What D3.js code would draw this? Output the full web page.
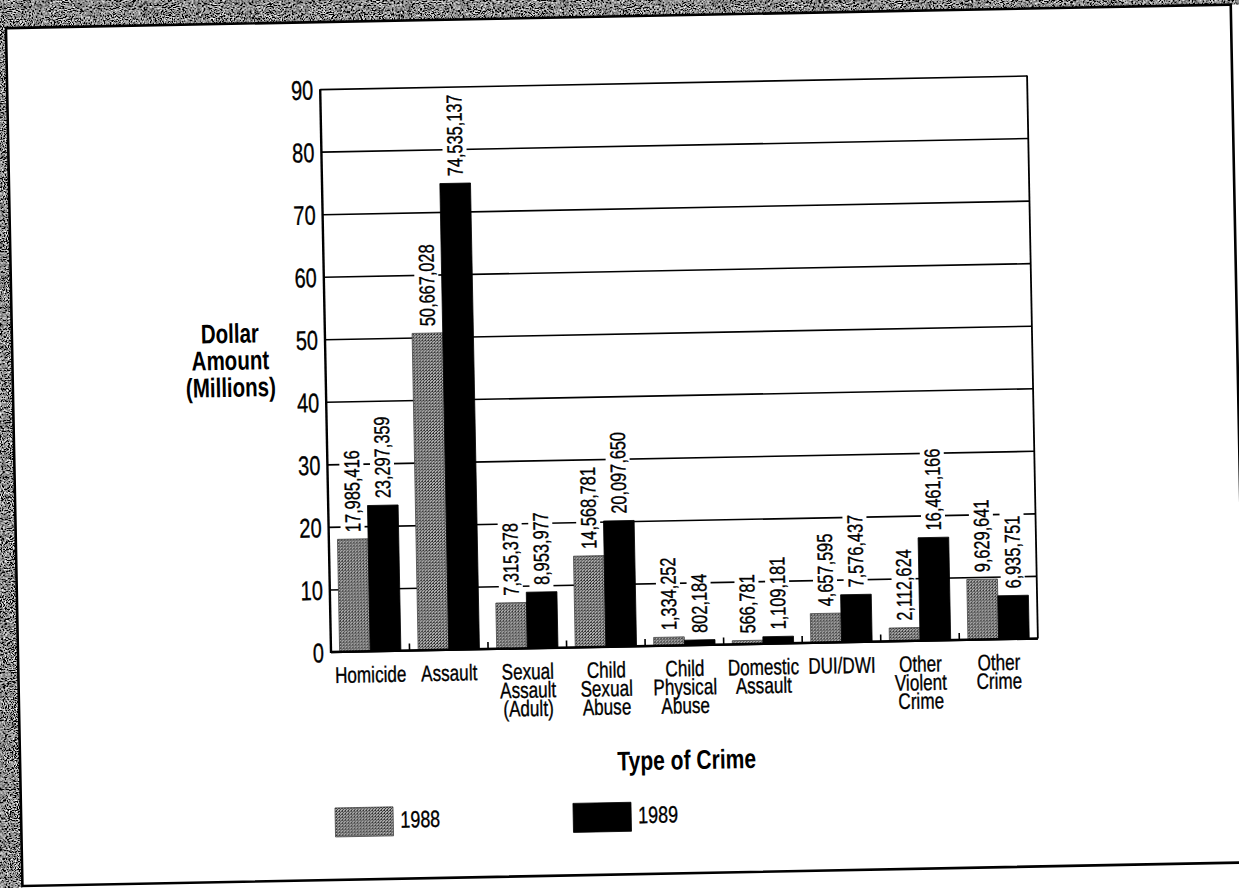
<!DOCTYPE html>
<html>
<head>
<meta charset="utf-8">
<script src="https://cdn.jsdelivr.net/npm/d3@7"></script>
<style>
  html, body { margin: 0; padding: 0; background: #fff; }
  svg { display: block; }
  text { font-family: "Liberation Sans", Arial, sans-serif; }
</style>
</head>
<body>
<svg id="chart" width="1239" height="888"></svg>
<script>
// Victim compensation payments by type of crime, 1988 vs 1989 (dollars)
const categories = [
  "Homicide", "Assault", "Sexual\nAssault\n(Adult)", "Child\nSexual\nAbuse",
  "Child\nPhysical\nAbuse", "Domestic\nAssault", "DUI/DWI", "Other\nViolent\nCrime", "Other\nCrime"
];
const years = ["1988", "1989"];
const values1988 = [17985416, 50667028, 7315378, 14568781, 1334252, 566781, 4657595, 2112624, 9629641];
const values1989 = [23297359, 74535137, 8953977, 20097650, 802184, 1109181, 7576437, 16461166, 6935751];
const yTicks = [0, 10, 20, 30, 40, 50, 60, 70, 80, 90];
const yTitle = ["Dollar", "Amount", "(Millions)"];
const xTitle = "Type of Crime";

const series = { "1988": values1988, "1989": values1989 };

// Squeeze Liberation Sans into a condensed face
function narrow(factor) {
  return sel => sel.each(function () {
    const len = this.getComputedTextLength();
    d3.select(this).attr("textLength", len * factor).attr("lengthAdjust", "spacingAndGlyphs");
  });
}
// Slightly heavier ink for the regular-weight text
const ink = sel => sel.attr("fill", "#000").attr("stroke", "#000").attr("stroke-width", 0.35);

const svg = d3.select("#chart");
const defs = svg.append("defs");

// Halftone fill for the 1988 bars
const dots = defs.append("pattern").attr("id", "halftone")
  .attr("patternUnits", "userSpaceOnUse").attr("width", 3).attr("height", 3);
dots.append("rect").attr("width", 3).attr("height", 3).attr("fill", "#b4b4b4");
[[0, 0], [2, 1], [1, 2], [1, 0]].forEach(([px, py]) =>
  dots.append("rect").attr("x", px).attr("y", py).attr("width", 1).attr("height", 1).attr("fill", "#303030"));

// Grainy paper edge
const grain = defs.append("filter").attr("id", "grain")
  .attr("x", 0).attr("y", 0).attr("width", "100%").attr("height", "100%");
grain.append("feTurbulence").attr("type", "fractalNoise").attr("baseFrequency", 0.9)
  .attr("numOctaves", 2).attr("seed", 7).attr("result", "n");
grain.append("feColorMatrix").attr("in", "n").attr("type", "matrix")
  .attr("values", "3.4 0 0 0 -1.45  3.4 0 0 0 -1.45  3.4 0 0 0 -1.45  0 0 0 0 1");

svg.append("rect").attr("width", 1239).attr("height", 888).attr("fill", "#fff");

const plot = { left: 331, right: 1038, top: 89, bottom: 652 };

// The printed page sits at a slight tilt
const page = svg.append("g")
  .attr("transform", `rotate(-1.1, ${plot.left}, ${plot.bottom})`);

page.append("rect").attr("x", -60).attr("y", -60).attr("width", 1400).attr("height", 82)
  .attr("filter", "url(#grain)");
page.append("rect").attr("x", -60).attr("y", -60).attr("width", 78).attr("height", 1020)
  .attr("filter", "url(#grain)");
page.append("rect").attr("x", 18).attr("y", 22).attr("width", 1225).attr("height", 858)
  .attr("fill", "#fff").attr("stroke", "#000").attr("stroke-width", 2.6);

const x0 = d3.scaleBand().domain(d3.range(categories.length))
  .range([plot.left, plot.right]).paddingInner(0.22).paddingOuter(0.11);
const x1 = d3.scaleBand().domain(years).range([0, x0.bandwidth()]);
const y = d3.scaleLinear().domain([0, 90]).range([plot.bottom, plot.top]);

// Gridlines and value axis
const yAxis = page.append("g")
  .attr("transform", `translate(${plot.left},0)`)
  .call(d3.axisLeft(y).tickValues(yTicks).tickFormat(d => d)
    .tickSize(-(plot.right - plot.left)).tickPadding(7));
yAxis.attr("font-family", null).attr("font-size", null);
yAxis.select(".domain").remove();
yAxis.selectAll(".tick line").attr("stroke", "#000").attr("stroke-width", 1.6);
yAxis.selectAll(".tick text").attr("font-size", 27).attr("dy", "0.36em").call(ink).call(narrow(0.74));

// Plot frame
page.append("line").attr("x1", plot.left).attr("x2", plot.left)
  .attr("y1", plot.top).attr("y2", plot.bottom + 1).attr("stroke", "#000").attr("stroke-width", 2.4);
page.append("line").attr("x1", plot.right).attr("x2", plot.right)
  .attr("y1", plot.top).attr("y2", plot.bottom).attr("stroke", "#000").attr("stroke-width", 1.8);

// Bars
const groups = page.append("g").selectAll("g").data(categories).join("g")
  .attr("transform", (d, i) => `translate(${x0(i)},0)`);
groups.selectAll("rect").data((d, i) => years.map(yr => ({ yr, v: series[yr][i] })))
  .join("rect")
  .attr("x", d => x1(d.yr))
  .attr("y", d => y(d.v / 1e6))
  .attr("width", x1.bandwidth())
  .attr("height", d => y(0) - y(d.v / 1e6))
  .attr("fill", d => d.yr === "1988" ? "url(#halftone)" : "#000")
  .attr("stroke", d => d.yr === "1988" ? "#444" : "#000")
  .attr("stroke-width", 0.8);

// Baseline with small ticks between categories
page.append("line").attr("x1", plot.left).attr("x2", plot.right)
  .attr("y1", plot.bottom).attr("y2", plot.bottom).attr("stroke", "#000").attr("stroke-width", 2.4);
const step = x0.step();
page.append("g").selectAll("line").data(d3.range(1, categories.length)).join("line")
  .attr("x1", k => x0(0) - x0.paddingInner() * step / 2 + k * step)
  .attr("x2", k => x0(0) - x0.paddingInner() * step / 2 + k * step)
  .attr("y1", plot.bottom).attr("y2", plot.bottom - 7)
  .attr("stroke", "#000").attr("stroke-width", 1.6);

// Value labels, knocked out of the gridlines
const fmt = d3.format(",");
const labels = groups.selectAll("g.vl").data((d, i) => years.map(yr => ({ yr, v: series[yr][i] })))
  .join("g").attr("class", "vl")
  .attr("transform", d => `translate(${x1(d.yr) + x1.bandwidth() / 2},${y(d.v / 1e6) - 7}) rotate(-90)`);
labels.append("rect").attr("fill", "#fff");
labels.append("text").attr("x", 0).attr("dy", "0.36em").attr("font-size", 21.5)
  .text(d => fmt(d.v)).call(ink).call(narrow(0.76));
labels.each(function () {
  const g = d3.select(this);
  const len = +g.select("text").attr("textLength");
  g.select("rect").attr("x", -3).attr("y", -12).attr("width", len + 6).attr("height", 24);
});

// Category labels, one text per line
const cat = page.append("g");
categories.forEach((c, i) => {
  c.split("\n").forEach((line, j) => {
    cat.append("text").attr("text-anchor", "middle").attr("font-size", 22.5)
      .attr("x", x0(i) + x0.bandwidth() / 2).attr("y", 683 + j * 18.5).text(line);
  });
});
cat.selectAll("text").call(ink).call(narrow(0.76));

// Axis titles
const yt = page.append("g");
yTitle.forEach((line, j) => {
  yt.append("text").attr("text-anchor", "middle").attr("x", 236).attr("y", 341 + j * 27)
    .attr("font-size", 27).attr("font-weight", "bold").attr("fill", "#000").text(line);
});
yt.selectAll("text").call(narrow(0.76));
page.append("text").attr("text-anchor", "middle")
  .attr("x", (plot.left + plot.right) / 2).attr("y", 776)
  .attr("font-size", 27).attr("font-weight", "bold").attr("fill", "#000").text(xTitle).call(narrow(0.78));

// Legend
const legendX = [332, 570];
const legend = page.append("g").selectAll("g").data(years).join("g")
  .attr("transform", (d, i) => `translate(${legendX[i]},808)`);
legend.append("rect").attr("width", 58).attr("height", 29)
  .attr("fill", d => d === "1988" ? "url(#halftone)" : "#000")
  .attr("stroke", d => d === "1988" ? "#444" : "#000").attr("stroke-width", 0.8);
legend.append("text").attr("x", 65).attr("y", 21)
  .attr("font-size", 23.5).text(d => d).call(ink).call(narrow(0.765));
</script>
</body>
</html>
